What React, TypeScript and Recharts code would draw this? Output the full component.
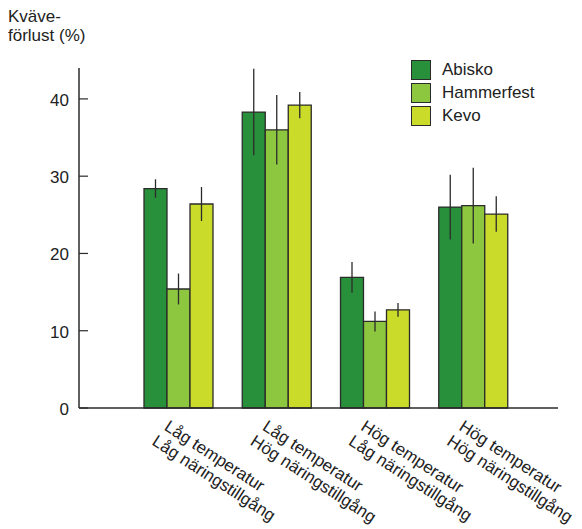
import React from "react";
import { BarChart, Bar, XAxis, YAxis, ErrorBar, Legend } from "recharts";

const tempLabels = ["Låg temperatur", "Låg temperatur", "Hög temperatur", "Hög temperatur"];
const nutrientLabels = ["Låg näringstillgång", "Hög näringstillgång", "Låg näringstillgång", "Hög näringstillgång"];

const abisko = [28.4, 38.3, 16.9, 26.0];
const abiskoErr = [1.2, 5.6, 2.0, 4.2];
const hammerfest = [15.4, 36.0, 11.2, 26.2];
const hammerfestErr = [2.0, 4.5, 1.3, 4.9];
const kevo = [26.4, 39.2, 12.7, 25.1];
const kevoErr = [2.2, 1.7, 0.9, 2.3];

const yTicks = [0, 10, 20, 30, 40];

const series = [
  { key: "abisko", err: "abiskoErr", name: "Abisko", color: "#28903b" },
  { key: "hammerfest", err: "hammerfestErr", name: "Hammerfest", color: "#8dc63f" },
  { key: "kevo", err: "kevoErr", name: "Kevo", color: "#cbdb2a" },
];

const data = tempLabels.map((t, i) => ({
  id: i,
  temp: t,
  nutrient: nutrientLabels[i],
  abisko: abisko[i],
  abiskoErr: abiskoErr[i],
  hammerfest: hammerfest[i],
  hammerfestErr: hammerfestErr[i],
  kevo: kevo[i],
  kevoErr: kevoErr[i],
}));

const FONT = "'Liberation Sans', Arial, sans-serif";
const TEXT = "#222";
const EDGE = "#2b2b2b";

const XTick = (props: any) => {
  const { x, y, payload } = props;
  const i = payload.value;
  return (
    <g transform={`translate(${x},${y})`}>
      <text transform="rotate(33)" fontSize={17} fill={TEXT} fontFamily={FONT}>
        <tspan x={-1} y={26}>{tempLabels[i]}</tspan>
        <tspan x={-3} dy={19}>{nutrientLabels[i]}</tspan>
      </text>
    </g>
  );
};

const YTick = (props: any) => {
  const { x, y, payload } = props;
  return (
    <g>
      <line x1={x + 10} x2={x + 19} y1={y} y2={y} stroke={EDGE} strokeWidth={1.2} />
      <text x={x} y={y} dy={7} textAnchor="end" fontSize={17} fill={TEXT} fontFamily={FONT}>
        {payload.value}
      </text>
    </g>
  );
};

const LegendBox = () => (
  <div style={{ fontFamily: FONT, fontSize: 17, color: TEXT }}>
    {series.map((s) => (
      <div key={s.key} style={{ display: "flex", alignItems: "center", height: 23 }}>
        <div
          style={{
            width: 18,
            height: 18,
            background: s.color,
            border: `1px solid ${EDGE}`,
            marginRight: 11,
          }}
        />
        <span>{s.name}</span>
      </div>
    ))}
  </div>
);

export default function App() {
  return (
    <div style={{ position: "absolute", left: 0, top: 0, width: 582, height: 529, background: "#fff" }}>
      <div
        style={{
          position: "absolute",
          left: 8,
          top: 7,
          fontFamily: FONT,
          fontSize: 17,
          lineHeight: "19px",
          color: TEXT,
        }}
      >
        Kväve-
        <br />
        förlust (%)
      </div>
      <BarChart
        width={582}
        height={529}
        data={data}
        margin={{ top: 68, right: 24, bottom: 0, left: 0 }}
        barSize={23}
        barGap={0}
      >
        <XAxis
          dataKey="id"
          tick={<XTick />}
          tickLine={false}
          tickSize={0}
          tickMargin={0}
          height={121}
          interval={0}
          padding={{ left: 50, right: 36 }}
          axisLine={{ stroke: EDGE, strokeWidth: 1.5 }}
        />
        <YAxis
          width={79}
          domain={[0, 44]}
          ticks={yTicks}
          tick={<YTick />}
          tickLine={false}
          tickSize={0}
          tickMargin={10}
          axisLine={{ stroke: EDGE, strokeWidth: 1.5 }}
        />
        <Legend
          layout="horizontal"
          verticalAlign="middle"
          align="center"
          content={<LegendBox />}
          wrapperStyle={{ left: 411, top: 58, width: 160 }}
        />
        {series.map((s) => (
          <Bar
            key={s.key}
            dataKey={s.key}
            name={s.name}
            fill={s.color}
            stroke={EDGE}
            strokeWidth={1.3}
            isAnimationActive={false}
          >
            <ErrorBar dataKey={s.err} width={0} stroke={EDGE} strokeWidth={1.3} direction="y" />
          </Bar>
        ))}
      </BarChart>
    </div>
  );
}
